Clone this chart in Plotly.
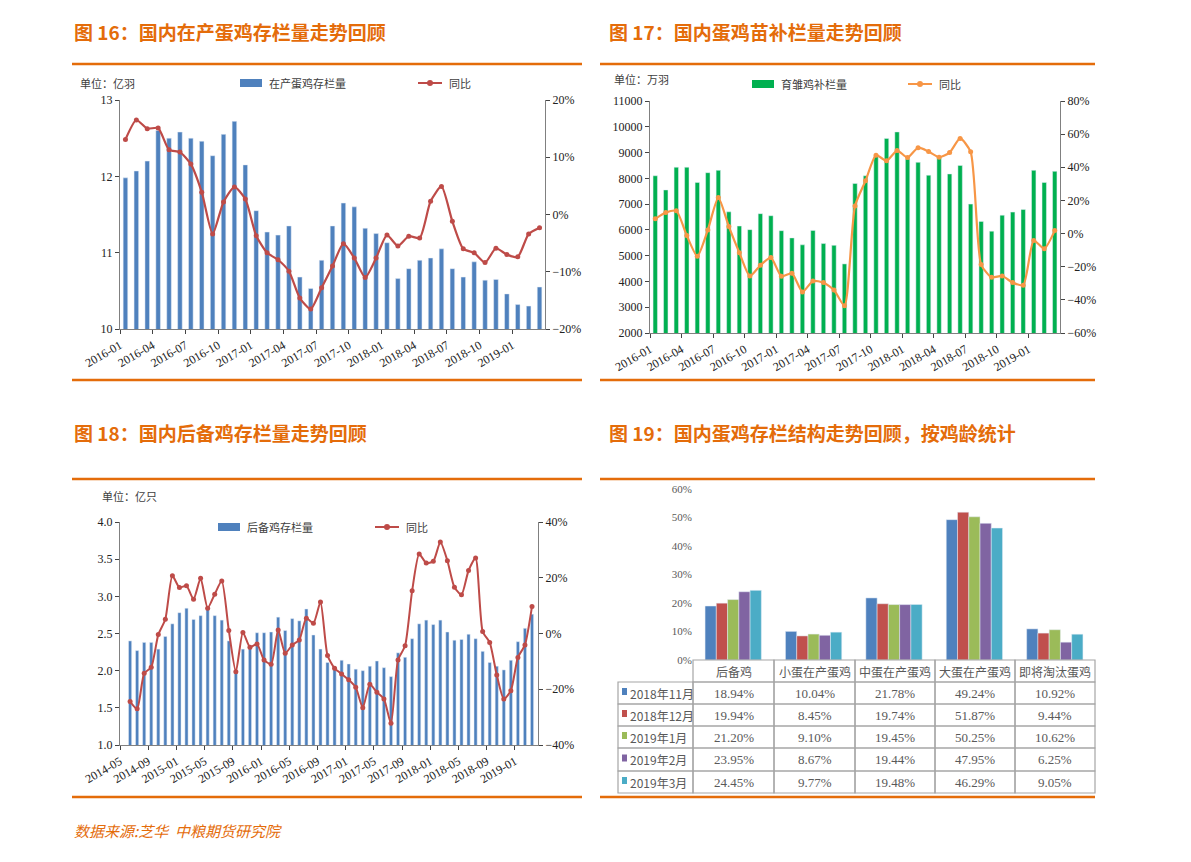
import plotly.graph_objects as go

W, H = 1191, 862

## ---------------- data ----------------
months16 = ['2016-01', '2016-04', '2016-07', '2016-10', '2017-01', '2017-04', '2017-07',
            '2017-10', '2018-01', '2018-04', '2018-07', '2018-10', '2019-01']
stock16 = [11.98, 12.07, 12.2, 12.6, 12.5, 12.58, 12.5, 12.46, 12.27, 12.55, 12.72, 12.15, 11.55,
           11.27, 11.23, 11.35, 10.68, 10.53, 10.9, 11.35, 11.65, 11.6, 11.32, 11.25, 11.13, 10.66,
           10.79, 10.9, 10.93, 11.05, 10.79, 10.68, 10.88, 10.64, 10.65, 10.46, 10.32, 10.3, 10.55]
yoy16 = [13.1, 16.5, 15.0, 15.1, 11.3, 10.9, 8.8, 3.9, -3.4, 2.2, 4.8, 2.7, -3.7, -6.7, -7.9, -9.9,
         -14.6, -16.5, -12.8, -9.0, -5.1, -7.6, -11.0, -7.6, -3.6, -5.5, -3.8, -4.1, 2.3, 4.9, -1.2,
         -6.0, -6.7, -8.4, -5.9, -7.0, -7.4, -3.4, -2.3]

chicks17 = [8100, 7550, 8430, 8430, 7840, 8220, 8310, 6700, 6150, 6010, 6630, 6550, 5970, 5690,
            5420, 5980, 5470, 5400, 4680, 7800, 8100, 8850, 9550, 9800, 8750, 8620, 8120, 8800,
            8170, 8500, 7000, 6330, 5950, 6570, 6690, 6790, 8310, 7840, 8270]
yoy17 = [8.9, 12.7, 13.7, -1.2, -13.7, 2.2, 21.7, 4.2, -11.5, -25.6, -19.1, -14.5, -25.8, -24.0,
         -35.2, -28.6, -29.6, -34.0, -43.5, 16.7, 31.8, 47.3, 43.9, 50.1, 45.9, 51.8, 49.5, 46.1,
         48.9, 57.4, 49.3, -18.7, -26.4, -25.6, -29.6, -31.2, -4.2, -9.1, 1.8]

months18 = ['2014-05', '2014-09', '2015-01', '2015-05', '2015-09', '2016-01', '2016-05', '2016-09',
            '2017-01', '2017-05', '2017-09', '2018-01', '2018-05', '2018-09', '2019-01']
reserve18 = [2.40, 2.27, 2.38, 2.38, 2.29, 2.46, 2.63, 2.78, 2.84, 2.69, 2.74, 2.84, 2.74, 2.68,
             2.40, 1.98, 2.29, 2.30, 2.51, 2.51, 2.52, 2.72, 2.54, 2.70, 2.67, 2.83, 2.48, 2.29,
             2.11, 2.05, 2.14, 2.09, 2.02, 2.00, 2.06, 2.13, 2.04, 1.92, 2.24, 2.18, 2.43, 2.63,
             2.68, 2.62, 2.68, 2.52, 2.41, 2.42, 2.49, 2.43, 2.26, 2.11, 2.06, 2.01, 2.14, 2.39,
             2.57, 2.76]
yoy18 = [-24.4, -27.0, -14.3, -12.1, -0.4, 5.1, 20.7, 16.5, 17.1, 12.3, 19.8, 9.1, 14.1, 18.8,
         1.1, -13.7, 0.4, -4.9, -3.8, -9.5, -11.0, 1.3, -7.1, -4.1, -2.3, 5.5, 3.7, 11.3, -7.9,
         -12.5, -14.5, -16.6, -19.3, -26.6, -18.2, -21.1, -23.5, -32.2, -9.5, -4.4, 15.3, 28.5,
         25.3, 25.9, 32.8, 26.1, 16.6, 13.9, 22.6, 27.1, 0.7, -3.2, -14.9, -23.5, -20.5, -8.6,
         -4.1, 9.7]

age_groups = ['后备鸡', '小蛋在产蛋鸡', '中蛋在产蛋鸡', '大蛋在产蛋鸡', '即将淘汰蛋鸡']
periods = ['2018年11月', '2018年12月', '2019年1月', '2019年2月', '2019年3月']
share19 = [
    [18.94, 10.04, 21.78, 49.24, 10.92],
    [19.94, 8.45, 19.74, 51.87, 9.44],
    [21.20, 9.10, 19.45, 50.25, 10.62],
    [23.95, 8.67, 19.44, 47.95, 6.25],
    [24.45, 9.77, 19.48, 46.29, 9.05],
]

## ---------------- styling ----------------
ORANGE = '#E46C0A'
CJK = 'Noto Sans CJK SC'
SERIF = 'Liberation Serif'
TXT = '#404040'
colors19 = ['#4F81BD', '#C0504D', '#9BBB59', '#8064A2', '#4BACC6']
OFF = 8  # page body margin shifts everything by ~8px


def px(x):
    return (x - OFF) / W


def py(y):
    return 1 - (y - OFF) / H


fig = go.Figure()
shapes = []
annots = []


def note(x, y, text, size=11, color=TXT, family=CJK, anchor='left'):
    annots.append(dict(xref='paper', yref='paper', x=px(x), y=py(y), text=text, showarrow=False,
                       xanchor=anchor, yanchor='middle',
                       font=dict(family=family, size=size, color=color)))


def xaxis_cfg(x0, x1, rng, tickvals, ticktext, anchor):
    return dict(domain=[px(x0), px(x1)], anchor=anchor, range=rng, tickmode='array',
                tickvals=tickvals, ticktext=ticktext, tickangle=-30, ticks='outside', ticklen=4,
                showline=True, linecolor='#808080', showgrid=False, zeroline=False,
                tickfont=dict(family=SERIF, size=12, color='#222'), fixedrange=True)


def yaxis_cfg(y0, y1, rng, dtick, anchor, side='left', overlay=None, suffix='', fmt=None):
    d = dict(domain=[py(y1), py(y0)], anchor=anchor, range=rng, dtick=dtick, side=side,
             ticks='outside', ticklen=4, showline=True, linecolor='#808080', showgrid=False,
             zeroline=False, ticksuffix=suffix, tickformat=fmt if fmt else 'd',
             tickfont=dict(family=SERIF, size=12, color='#222'))
    if overlay:
        d['overlaying'] = overlay
    return d


def legend_items(y, bar_x, bar_label, bar_color, line_x, line_color):
    shapes.append(dict(type='rect', xref='paper', yref='paper', x0=px(bar_x), x1=px(bar_x + 22),
                       y0=py(y + 4), y1=py(y - 4), fillcolor=bar_color, line_width=0))
    note(bar_x + 27, y, bar_label)
    shapes.append(dict(type='line', xref='paper', yref='paper', x0=px(line_x), x1=px(line_x + 24),
                       y0=py(y), y1=py(y), line=dict(color=line_color, width=2)))
    shapes.append(dict(type='circle', xref='paper', yref='paper', x0=px(line_x + 9),
                       x1=px(line_x + 15), y0=py(y + 3), y1=py(y - 3), fillcolor=line_color,
                       line_width=0))
    note(line_x + 29, y, '同比')


## ---------------- figure 16 ----------------
n16 = len(stock16)
x16 = list(range(n16))
fig.add_trace(go.Bar(x=x16, y=stock16, marker_color='#4F81BD', width=0.42, xaxis='x', yaxis='y',
                     showlegend=False))
fig.add_trace(go.Scatter(x=x16, y=yoy16, mode='lines+markers', line=dict(color='#BE4B48', width=2.2,
                         shape='spline', smoothing=0.6), marker=dict(size=5), xaxis='x', yaxis='y2',
                         showlegend=False))

## ---------------- figure 17 ----------------
x17 = list(range(len(chicks17)))
fig.add_trace(go.Bar(x=x17, y=chicks17, marker_color='#00B050', width=0.42, xaxis='x3', yaxis='y3',
                     showlegend=False))
fig.add_trace(go.Scatter(x=x17, y=yoy17, mode='lines+markers', line=dict(color='#F79646', width=2.2,
                         shape='spline', smoothing=0.6), marker=dict(size=5), xaxis='x3', yaxis='y4',
                         showlegend=False))

## ---------------- figure 18 ----------------
x18 = list(range(len(reserve18)))
fig.add_trace(go.Bar(x=x18, y=reserve18, marker_color='#4F81BD', width=0.45, xaxis='x5', yaxis='y5',
                     showlegend=False))
fig.add_trace(go.Scatter(x=x18, y=yoy18, mode='lines+markers', line=dict(color='#BE4B48', width=2,
                         shape='spline', smoothing=0.6), marker=dict(size=5), xaxis='x5', yaxis='y6',
                         showlegend=False))

## ---------------- figure 19 ----------------
for i, p in enumerate(periods):
    fig.add_trace(go.Bar(x=age_groups, y=share19[i], name=p, marker_color=colors19[i],
                         xaxis='x7', yaxis='y7', showlegend=False))

layout = dict(
    width=W, height=H, autosize=False, margin=dict(l=0, r=0, t=0, b=0, pad=0, autoexpand=False),
    paper_bgcolor='white', plot_bgcolor='rgba(0,0,0,0)', bargap=0.3, bargroupgap=0.0,
    barmode='group',
    xaxis=xaxis_cfg(120, 545, [-0.5, n16 - 0.5], [-0.5 + 3 * k for k in range(len(months16))],
                    months16, 'y'),
    yaxis=yaxis_cfg(100, 329, [10, 13], 1, 'x'),
    yaxis2=yaxis_cfg(100, 329, [-20, 20], 10, 'x', side='right', overlay='y', suffix='%'),
    xaxis3=xaxis_cfg(650, 1060, [-0.5, len(chicks17) - 0.5],
                     [-0.5 + 3 * k for k in range(len(months16))], months16, 'y3'),
    yaxis3=yaxis_cfg(101, 333, [2000, 11000], 1000, 'x3'),
    yaxis4=yaxis_cfg(101, 333, [-60, 80], 20, 'x3', side='right', overlay='y3', suffix='%'),
    xaxis5=xaxis_cfg(120, 538, [-1.43, len(reserve18) - 0.15],
                     [-1.43 + 4 * k for k in range(len(months18))], months18, 'y5'),
    yaxis5=yaxis_cfg(522, 745, [1.0, 4.0], 0.5, 'x5', fmt='.1f'),
    yaxis6=yaxis_cfg(522, 745, [-40, 40], 20, 'x5', side='right', overlay='y5', suffix='%'),
    xaxis7=dict(domain=[px(693), px(1095)], anchor='y7', showticklabels=False, showline=False,
                ticks='', fixedrange=True),
    yaxis7=dict(domain=[py(660), py(489)], anchor='x7', range=[0, 60], dtick=10, ticksuffix='%',
                showgrid=False, showline=False, zeroline=False,
                tickfont=dict(family=SERIF, size=11, color='#595959')),
)

## titles, orange rules
for tx, ty, t in [(72, 32, '图 16：国内在产蛋鸡存栏量走势回顾'), (607, 32, '图 17：国内蛋鸡苗补栏量走势回顾'),
                  (72, 432, '图 18：国内后备鸡存栏量走势回顾'), (607, 432, '图 19：国内蛋鸡存栏结构走势回顾，按鸡龄统计')]:
    note(tx, ty, '<b>' + t + '</b>', size=19, color=ORANGE)
for x0, x1, y in [(72, 582, 64), (72, 582, 380), (600, 1095, 64), (600, 1095, 380),
                  (72, 582, 479), (72, 582, 797), (600, 1095, 479), (600, 1095, 797)]:
    shapes.append(dict(type='line', xref='paper', yref='paper', x0=px(x0), x1=px(x1), y0=py(y),
                       y1=py(y), line=dict(color=ORANGE, width=2.5)))

## legends and units
note(78, 83, '单位：亿羽')
legend_items(83, 240, '在产蛋鸡存栏量', '#4F81BD', 418, '#BE4B48')
note(612, 79, '单位：万羽')
legend_items(84, 752, '育雏鸡补栏量', '#00B050', 908, '#F79646')
note(100, 496, '单位：亿只')
legend_items(527, 218, '后备鸡存栏量', '#4F81BD', 375, '#BE4B48')

## table under figure 19
col_edges = [618, 693, 774, 855, 935, 1015, 1095]
row_edges = [660, 682, 704, 726, 748, 771, 793]
for r in range(6):
    for c in range(6):
        if r == 0 and c == 0:
            continue
        shapes.append(dict(type='rect', xref='paper', yref='paper', x0=px(col_edges[c]),
                           x1=px(col_edges[c + 1]), y0=py(row_edges[r + 1]), y1=py(row_edges[r]),
                           line=dict(color='#A6A6A6', width=1.2)))
for c, g in enumerate(age_groups):
    note((col_edges[c + 1] + col_edges[c + 2]) / 2, 671, g, size=12, color='#595959',
         anchor='center')
for r, p in enumerate(periods):
    yc = (row_edges[r + 1] + row_edges[r + 2]) / 2
    shapes.append(dict(type='rect', xref='paper', yref='paper', x0=px(622), x1=px(627),
                       y0=py(yc + 2), y1=py(yc - 5), fillcolor=colors19[r], line_width=0))
    note(628, yc, p, size=12, color='#595959')
    for c in range(5):
        note((col_edges[c + 1] + col_edges[c + 2]) / 2, yc, f'{share19[r][c]:.2f}%', size=13,
             color='#595959', family=SERIF, anchor='center')

## footnote
note(72, 830, '<i>数据来源:芝华  中粮期货研究院</i>', size=15, color=ORANGE)

layout['shapes'] = shapes
layout['annotations'] = annots
fig.update_layout(**layout)

fig.write_html("out.html")
